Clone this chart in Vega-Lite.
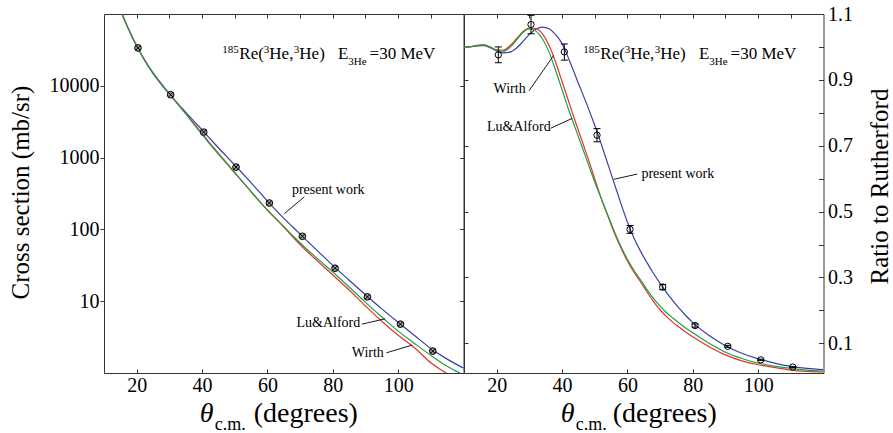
{
  "$schema": "https://vega.github.io/schema/vega-lite/v6.json",
  "autosize": {"type": "none"},
  "padding": {"left": 104, "top": 14, "right": 789, "bottom": 419},
  "background": "white",
  "config": {
    "view": {"stroke": "#333", "strokeWidth": 1},
    "font": "Liberation Serif, Times New Roman, Times, DejaVu Serif, serif",
    "axis": {"domain": false, "grid": false, "labelFont": "Liberation Serif, Times New Roman, Times, DejaVu Serif, serif", "labelFontSize": 20, "labelColor": "black", "tickColor": "#333", "tickWidth": 1, "titleFont": "Liberation Serif, Times New Roman, Times, DejaVu Serif, serif", "titleFontSize": 25, "titleFontWeight": "normal", "titleColor": "black"},
    "text": {"font": "Liberation Serif, Times New Roman, Times, DejaVu Serif, serif", "color": "black"}
  },
  "datasets": {
    "one": [{}],
    "sigma": [
      {"m": "present work", "x": 15, "s": 114000}, {"m": "present work", "x": 16, "s": 88300}, {"m": "present work", "x": 18, "s": 55000}, {"m": "present work", "x": 20, "s": 35860}, {"m": "present work", "x": 22, "s": 24450}, {"m": "present work", "x": 24, "s": 17380}, {"m": "present work", "x": 26, "s": 12840}, {"m": "present work", "x": 28, "s": 9790}, {"m": "present work", "x": 30, "s": 7633}, {"m": "present work", "x": 32, "s": 6026}, {"m": "present work", "x": 34, "s": 4787}, {"m": "present work", "x": 36, "s": 3818}, {"m": "present work", "x": 38, "s": 3049}, {"m": "present work", "x": 40, "s": 2436}, {"m": "present work", "x": 42, "s": 1930}, {"m": "present work", "x": 44, "s": 1534}, {"m": "present work", "x": 46, "s": 1225}, {"m": "present work", "x": 48, "s": 983}, {"m": "present work", "x": 50, "s": 788}, {"m": "present work", "x": 52, "s": 630}, {"m": "present work", "x": 54, "s": 501}, {"m": "present work", "x": 56, "s": 397}, {"m": "present work", "x": 58, "s": 314}, {"m": "present work", "x": 60, "s": 247}, {"m": "present work", "x": 64, "s": 159}, {"m": "present work", "x": 68, "s": 105.3}, {"m": "present work", "x": 72, "s": 70.2}, {"m": "present work", "x": 76, "s": 47.1}, {"m": "present work", "x": 80, "s": 31.5}, {"m": "present work", "x": 85, "s": 19.6}, {"m": "present work", "x": 90, "s": 12.3}, {"m": "present work", "x": 95, "s": 7.82}, {"m": "present work", "x": 100, "s": 5.08}, {"m": "present work", "x": 105, "s": 3.33}, {"m": "present work", "x": 110, "s": 2.2}, {"m": "present work", "x": 115, "s": 1.56}, {"m": "present work", "x": 120, "s": 1.17},
      {"m": "Wirth", "x": 15, "s": 114000}, {"m": "Wirth", "x": 16, "s": 88490}, {"m": "Wirth", "x": 18, "s": 55100}, {"m": "Wirth", "x": 20, "s": 35970}, {"m": "Wirth", "x": 22, "s": 24650}, {"m": "Wirth", "x": 24, "s": 17710}, {"m": "Wirth", "x": 26, "s": 13200}, {"m": "Wirth", "x": 28, "s": 10080}, {"m": "Wirth", "x": 30, "s": 7773}, {"m": "Wirth", "x": 32, "s": 6037}, {"m": "Wirth", "x": 34, "s": 4697}, {"m": "Wirth", "x": 36, "s": 3637}, {"m": "Wirth", "x": 38, "s": 2805}, {"m": "Wirth", "x": 40, "s": 2159}, {"m": "Wirth", "x": 42, "s": 1670}, {"m": "Wirth", "x": 44, "s": 1299}, {"m": "Wirth", "x": 46, "s": 1017}, {"m": "Wirth", "x": 48, "s": 796}, {"m": "Wirth", "x": 50, "s": 620}, {"m": "Wirth", "x": 52, "s": 483}, {"m": "Wirth", "x": 54, "s": 378}, {"m": "Wirth", "x": 56, "s": 295}, {"m": "Wirth", "x": 58, "s": 233}, {"m": "Wirth", "x": 60, "s": 184.8}, {"m": "Wirth", "x": 64, "s": 120.1}, {"m": "Wirth", "x": 68, "s": 76.6}, {"m": "Wirth", "x": 72, "s": 50.0}, {"m": "Wirth", "x": 76, "s": 34.0}, {"m": "Wirth", "x": 80, "s": 23.2}, {"m": "Wirth", "x": 85, "s": 14.3}, {"m": "Wirth", "x": 90, "s": 8.58}, {"m": "Wirth", "x": 95, "s": 5.25}, {"m": "Wirth", "x": 100, "s": 3.35}, {"m": "Wirth", "x": 105, "s": 2.25}, {"m": "Wirth", "x": 110, "s": 1.39}, {"m": "Wirth", "x": 115, "s": 0.98}, {"m": "Wirth", "x": 120, "s": 0.76},
      {"m": "Lu&Alford", "x": 15, "s": 114000}, {"m": "Lu&Alford", "x": 16, "s": 88490}, {"m": "Lu&Alford", "x": 18, "s": 55040}, {"m": "Lu&Alford", "x": 20, "s": 35930}, {"m": "Lu&Alford", "x": 22, "s": 24570}, {"m": "Lu&Alford", "x": 24, "s": 17630}, {"m": "Lu&Alford", "x": 26, "s": 13150}, {"m": "Lu&Alford", "x": 28, "s": 10060}, {"m": "Lu&Alford", "x": 30, "s": 7758}, {"m": "Lu&Alford", "x": 32, "s": 5991}, {"m": "Lu&Alford", "x": 34, "s": 4629}, {"m": "Lu&Alford", "x": 36, "s": 3565}, {"m": "Lu&Alford", "x": 38, "s": 2731}, {"m": "Lu&Alford", "x": 40, "s": 2098}, {"m": "Lu&Alford", "x": 42, "s": 1620}, {"m": "Lu&Alford", "x": 44, "s": 1265}, {"m": "Lu&Alford", "x": 46, "s": 991}, {"m": "Lu&Alford", "x": 48, "s": 778}, {"m": "Lu&Alford", "x": 50, "s": 610}, {"m": "Lu&Alford", "x": 52, "s": 483}, {"m": "Lu&Alford", "x": 54, "s": 381}, {"m": "Lu&Alford", "x": 56, "s": 299}, {"m": "Lu&Alford", "x": 58, "s": 236}, {"m": "Lu&Alford", "x": 60, "s": 187.4}, {"m": "Lu&Alford", "x": 64, "s": 122.6}, {"m": "Lu&Alford", "x": 68, "s": 79.7}, {"m": "Lu&Alford", "x": 72, "s": 53.3}, {"m": "Lu&Alford", "x": 76, "s": 36.7}, {"m": "Lu&Alford", "x": 80, "s": 25.5}, {"m": "Lu&Alford", "x": 85, "s": 15.8}, {"m": "Lu&Alford", "x": 90, "s": 9.64}, {"m": "Lu&Alford", "x": 95, "s": 6.03}, {"m": "Lu&Alford", "x": 100, "s": 3.83}, {"m": "Lu&Alford", "x": 105, "s": 2.58}, {"m": "Lu&Alford", "x": 110, "s": 1.76}, {"m": "Lu&Alford", "x": 115, "s": 1.24}, {"m": "Lu&Alford", "x": 120, "s": 0.94}
    ],
    "ratio": [
      {"m": "present work", "x": 10, "r": 1.0}, {"m": "present work", "x": 12, "r": 1.001}, {"m": "present work", "x": 14, "r": 1.003}, {"m": "present work", "x": 16, "r": 1.004}, {"m": "present work", "x": 18, "r": 0.998}, {"m": "present work", "x": 20, "r": 0.988}, {"m": "present work", "x": 22, "r": 0.982}, {"m": "present work", "x": 24, "r": 0.984}, {"m": "present work", "x": 26, "r": 0.996}, {"m": "present work", "x": 28, "r": 1.016}, {"m": "present work", "x": 30, "r": 1.038}, {"m": "present work", "x": 32, "r": 1.054}, {"m": "present work", "x": 34, "r": 1.06}, {"m": "present work", "x": 36, "r": 1.055}, {"m": "present work", "x": 38, "r": 1.038}, {"m": "present work", "x": 40, "r": 1.01}, {"m": "present work", "x": 42, "r": 0.965}, {"m": "present work", "x": 44, "r": 0.915}, {"m": "present work", "x": 46, "r": 0.865}, {"m": "present work", "x": 48, "r": 0.815}, {"m": "present work", "x": 50, "r": 0.762}, {"m": "present work", "x": 52, "r": 0.705}, {"m": "present work", "x": 54, "r": 0.645}, {"m": "present work", "x": 56, "r": 0.585}, {"m": "present work", "x": 58, "r": 0.525}, {"m": "present work", "x": 60, "r": 0.468}, {"m": "present work", "x": 62, "r": 0.42}, {"m": "present work", "x": 64, "r": 0.38}, {"m": "present work", "x": 66, "r": 0.345}, {"m": "present work", "x": 68, "r": 0.312}, {"m": "present work", "x": 70, "r": 0.282}, {"m": "present work", "x": 72, "r": 0.254}, {"m": "present work", "x": 74, "r": 0.228}, {"m": "present work", "x": 76, "r": 0.205}, {"m": "present work", "x": 78, "r": 0.183}, {"m": "present work", "x": 80, "r": 0.163}, {"m": "present work", "x": 85, "r": 0.124}, {"m": "present work", "x": 90, "r": 0.093}, {"m": "present work", "x": 95, "r": 0.07}, {"m": "present work", "x": 100, "r": 0.053}, {"m": "present work", "x": 105, "r": 0.04}, {"m": "present work", "x": 110, "r": 0.03}, {"m": "present work", "x": 115, "r": 0.024}, {"m": "present work", "x": 120, "r": 0.02},
      {"m": "Wirth", "x": 10, "r": 1.0}, {"m": "Wirth", "x": 12, "r": 1.0}, {"m": "Wirth", "x": 14, "r": 1.004}, {"m": "Wirth", "x": 16, "r": 1.006}, {"m": "Wirth", "x": 18, "r": 1.0}, {"m": "Wirth", "x": 20, "r": 0.991}, {"m": "Wirth", "x": 22, "r": 0.99}, {"m": "Wirth", "x": 24, "r": 1.003}, {"m": "Wirth", "x": 26, "r": 1.024}, {"m": "Wirth", "x": 28, "r": 1.046}, {"m": "Wirth", "x": 30, "r": 1.057}, {"m": "Wirth", "x": 32, "r": 1.056}, {"m": "Wirth", "x": 34, "r": 1.04}, {"m": "Wirth", "x": 36, "r": 1.005}, {"m": "Wirth", "x": 38, "r": 0.955}, {"m": "Wirth", "x": 40, "r": 0.895}, {"m": "Wirth", "x": 42, "r": 0.835}, {"m": "Wirth", "x": 44, "r": 0.775}, {"m": "Wirth", "x": 46, "r": 0.718}, {"m": "Wirth", "x": 48, "r": 0.66}, {"m": "Wirth", "x": 50, "r": 0.6}, {"m": "Wirth", "x": 52, "r": 0.54}, {"m": "Wirth", "x": 54, "r": 0.487}, {"m": "Wirth", "x": 56, "r": 0.435}, {"m": "Wirth", "x": 58, "r": 0.39}, {"m": "Wirth", "x": 60, "r": 0.35}, {"m": "Wirth", "x": 62, "r": 0.316}, {"m": "Wirth", "x": 64, "r": 0.287}, {"m": "Wirth", "x": 66, "r": 0.256}, {"m": "Wirth", "x": 68, "r": 0.227}, {"m": "Wirth", "x": 70, "r": 0.202}, {"m": "Wirth", "x": 72, "r": 0.181}, {"m": "Wirth", "x": 74, "r": 0.163}, {"m": "Wirth", "x": 76, "r": 0.148}, {"m": "Wirth", "x": 78, "r": 0.133}, {"m": "Wirth", "x": 80, "r": 0.12}, {"m": "Wirth", "x": 85, "r": 0.09}, {"m": "Wirth", "x": 90, "r": 0.065}, {"m": "Wirth", "x": 95, "r": 0.047}, {"m": "Wirth", "x": 100, "r": 0.035}, {"m": "Wirth", "x": 105, "r": 0.027}, {"m": "Wirth", "x": 110, "r": 0.019}, {"m": "Wirth", "x": 115, "r": 0.015}, {"m": "Wirth", "x": 120, "r": 0.013},
      {"m": "Lu&Alford", "x": 10, "r": 1.0}, {"m": "Lu&Alford", "x": 12, "r": 1.001}, {"m": "Lu&Alford", "x": 14, "r": 1.005}, {"m": "Lu&Alford", "x": 16, "r": 1.006}, {"m": "Lu&Alford", "x": 18, "r": 0.999}, {"m": "Lu&Alford", "x": 20, "r": 0.99}, {"m": "Lu&Alford", "x": 22, "r": 0.987}, {"m": "Lu&Alford", "x": 24, "r": 0.998}, {"m": "Lu&Alford", "x": 26, "r": 1.02}, {"m": "Lu&Alford", "x": 28, "r": 1.044}, {"m": "Lu&Alford", "x": 30, "r": 1.055}, {"m": "Lu&Alford", "x": 32, "r": 1.048}, {"m": "Lu&Alford", "x": 34, "r": 1.025}, {"m": "Lu&Alford", "x": 36, "r": 0.985}, {"m": "Lu&Alford", "x": 38, "r": 0.93}, {"m": "Lu&Alford", "x": 40, "r": 0.87}, {"m": "Lu&Alford", "x": 42, "r": 0.81}, {"m": "Lu&Alford", "x": 44, "r": 0.755}, {"m": "Lu&Alford", "x": 46, "r": 0.7}, {"m": "Lu&Alford", "x": 48, "r": 0.645}, {"m": "Lu&Alford", "x": 50, "r": 0.59}, {"m": "Lu&Alford", "x": 52, "r": 0.54}, {"m": "Lu&Alford", "x": 54, "r": 0.49}, {"m": "Lu&Alford", "x": 56, "r": 0.44}, {"m": "Lu&Alford", "x": 58, "r": 0.395}, {"m": "Lu&Alford", "x": 60, "r": 0.355}, {"m": "Lu&Alford", "x": 62, "r": 0.322}, {"m": "Lu&Alford", "x": 64, "r": 0.293}, {"m": "Lu&Alford", "x": 66, "r": 0.263}, {"m": "Lu&Alford", "x": 68, "r": 0.236}, {"m": "Lu&Alford", "x": 70, "r": 0.213}, {"m": "Lu&Alford", "x": 72, "r": 0.193}, {"m": "Lu&Alford", "x": 74, "r": 0.176}, {"m": "Lu&Alford", "x": 76, "r": 0.16}, {"m": "Lu&Alford", "x": 78, "r": 0.145}, {"m": "Lu&Alford", "x": 80, "r": 0.132}, {"m": "Lu&Alford", "x": 85, "r": 0.1}, {"m": "Lu&Alford", "x": 90, "r": 0.073}, {"m": "Lu&Alford", "x": 95, "r": 0.054}, {"m": "Lu&Alford", "x": 100, "r": 0.04}, {"m": "Lu&Alford", "x": 105, "r": 0.031}, {"m": "Lu&Alford", "x": 110, "r": 0.024}, {"m": "Lu&Alford", "x": 115, "r": 0.019}, {"m": "Lu&Alford", "x": 120, "r": 0.016}
    ],
    "sigpts": [
      {"x": 20.4, "s": 33700}, {"x": 30.4, "s": 7500}, {"x": 40.5, "s": 2265}, {"x": 50.4, "s": 738}, {"x": 60.6, "s": 233}, {"x": 70.7, "s": 80.2}, {"x": 80.7, "s": 28.8}, {"x": 90.6, "s": 11.5}, {"x": 100.7, "s": 4.79}, {"x": 110.6, "s": 2.02}
    ],
    "ratpts": [
      {"x": 20.5, "r": 0.976, "lo": 0.952, "hi": 1.0}, {"x": 30.5, "r": 1.068, "lo": 1.04, "hi": 1.096}, {"x": 40.7, "r": 0.985, "lo": 0.96, "hi": 1.009}, {"x": 50.7, "r": 0.732, "lo": 0.712, "hi": 0.752}, {"x": 60.8, "r": 0.446, "lo": 0.434, "hi": 0.458}, {"x": 70.8, "r": 0.271, "lo": 0.263, "hi": 0.279}, {"x": 80.7, "r": 0.154, "lo": 0.149, "hi": 0.159}, {"x": 90.7, "r": 0.091, "lo": 0.088, "hi": 0.094}, {"x": 100.8, "r": 0.05, "lo": 0.048, "hi": 0.052}, {"x": 110.6, "r": 0.028, "lo": 0.027, "hi": 0.029}
    ],
    "labsL": [
      {"t": "present work", "x": 67.5, "y": 307.6}, {"t": "Lu&Alford", "x": 68.9, "y": 4.4}, {"t": "Wirth", "x": 85.8, "y": 1.68}
    ],
    "labsR": [
      {"t": "Wirth", "x": 19.05, "y": 0.859}, {"t": "Lu&Alford", "x": 17.0, "y": 0.746}, {"t": "present work", "x": 64.3, "y": 0.603}
    ],
    "leadL": [
      {"x": 71.3, "y": 284, "x2": 65.2, "y2": 166}, {"x": 88.9, "y": 4.79, "x2": 96.0, "y2": 5.68}, {"x": 96.4, "y": 1.91, "x2": 104.2, "y2": 2.44}
    ],
    "leadR": [
      {"x": 29.9, "y": 0.867, "x2": 37.5, "y2": 0.975}, {"x": 36.5, "y": 0.753, "x2": 43.1, "y2": 0.783}, {"x": 63.0, "y": 0.614, "x2": 55.8, "y2": 0.598}
    ]
  },
  "spacing": 0,
  "bounds": "flush",
  "hconcat": [
    {
      "width": 359.5,
      "height": 359,
      "resolve": {"axis": {"x": "independent", "y": "independent"}},
      "layer": [
        {
          "layer": [
            {
              "data": {"name": "sigma"},
              "mark": {"type": "line", "clip": true, "strokeWidth": 1.2, "interpolate": "monotone"},
              "encoding": {
                "x": {"field": "x", "type": "quantitative", "scale": {"domain": [10, 120], "nice": false, "zero": false},
                      "axis": {"orient": "bottom", "values": [20, 30, 40, 50, 60, 70, 80, 90, 100, 110], "labelExpr": "datum.value % 20 == 0 ? datum.label : ''", "tickSize": -4, "labelPadding": 6.5, "title": null}},
                "y": {"field": "s", "type": "quantitative", "scale": {"type": "log", "domain": [1, 100000], "nice": false},
                      "axis": {"orient": "left", "values": [10, 100, 1000, 10000], "format": "d", "tickSize": 4, "labelPadding": 1, "title": "Cross section (mb/sr)", "titleX": -76, "titleY": 178, "titleBaseline": "alphabetic", "titleAngle": 270}},
                "color": {"field": "m", "type": "nominal", "scale": {"domain": ["present work", "Wirth", "Lu&Alford"], "range": ["#3340a6", "#ea3027", "#1ca04a"]}, "legend": null}
              }
            },
            {
              "data": {"name": "sigpts"},
              "mark": {"type": "point", "shape": "circle", "filled": true, "fill": "#9a9a9a", "stroke": "black", "strokeWidth": 1, "size": 45, "opacity": 1},
              "encoding": {"x": {"field": "x", "type": "quantitative"}, "y": {"field": "s", "type": "quantitative"}}
            },
            {
              "data": {"name": "leadL"},
              "mark": {"type": "rule", "color": "black", "strokeWidth": 0.9},
              "encoding": {"x": {"field": "x", "type": "quantitative"}, "y": {"field": "y", "type": "quantitative"}, "x2": {"field": "x2"}, "y2": {"field": "y2"}}
            },
            {
              "data": {"name": "labsL"},
              "mark": {"type": "text", "fontSize": 14, "align": "left", "baseline": "alphabetic"},
              "encoding": {"x": {"field": "x", "type": "quantitative"}, "y": {"field": "y", "type": "quantitative"}, "text": {"field": "t"}}
            },
            {"data": {"name": "one"}, "mark": {"type": "text", "fontSize": 11, "align": "left", "baseline": "alphabetic", "dx": 0, "dy": -6}, "encoding": {"x": {"datum": 46.2}, "y": {"datum": 23500}, "text": {"value": "185"}}},
            {"data": {"name": "one"}, "mark": {"type": "text", "fontSize": 17, "align": "left", "baseline": "alphabetic", "dx": 17}, "encoding": {"x": {"datum": 46.2}, "y": {"datum": 23500}, "text": {"value": "Re("}}},
            {"data": {"name": "one"}, "mark": {"type": "text", "fontSize": 11, "align": "left", "baseline": "alphabetic", "dx": 41.5, "dy": -6}, "encoding": {"x": {"datum": 46.2}, "y": {"datum": 23500}, "text": {"value": "3"}}},
            {"data": {"name": "one"}, "mark": {"type": "text", "fontSize": 17, "align": "left", "baseline": "alphabetic", "dx": 47}, "encoding": {"x": {"datum": 46.2}, "y": {"datum": 23500}, "text": {"value": "He,"}}},
            {"data": {"name": "one"}, "mark": {"type": "text", "fontSize": 11, "align": "left", "baseline": "alphabetic", "dx": 71.5, "dy": -6}, "encoding": {"x": {"datum": 46.2}, "y": {"datum": 23500}, "text": {"value": "3"}}},
            {"data": {"name": "one"}, "mark": {"type": "text", "fontSize": 17, "align": "left", "baseline": "alphabetic", "dx": 77}, "encoding": {"x": {"datum": 46.2}, "y": {"datum": 23500}, "text": {"value": "He)"}}},
            {"data": {"name": "one"}, "mark": {"type": "text", "fontSize": 17, "align": "left", "baseline": "alphabetic", "dx": 115.6}, "encoding": {"x": {"datum": 46.2}, "y": {"datum": 23500}, "text": {"value": "E"}}},
            {"data": {"name": "one"}, "mark": {"type": "text", "fontSize": 11, "align": "left", "baseline": "alphabetic", "dx": 126, "dy": 6}, "encoding": {"x": {"datum": 46.2}, "y": {"datum": 23500}, "text": {"value": "3He"}}},
            {"data": {"name": "one"}, "mark": {"type": "text", "fontSize": 17, "align": "left", "baseline": "alphabetic", "dx": 147.3}, "encoding": {"x": {"datum": 46.2}, "y": {"datum": 23500}, "text": {"value": "=30 MeV"}}},
            {"data": {"name": "one"}, "mark": {"type": "text", "fontSize": 28, "fontStyle": "italic", "align": "left", "baseline": "alphabetic", "dx": -3}, "encoding": {"x": {"datum": 40.2}, "y": {"datum": 0.205}, "text": {"value": "θ"}}},
            {"data": {"name": "one"}, "mark": {"type": "text", "fontSize": 18, "align": "left", "baseline": "alphabetic", "dx": 12}, "encoding": {"x": {"datum": 40.2}, "y": {"datum": 0.161}, "text": {"value": "c.m."}}},
            {"data": {"name": "one"}, "mark": {"type": "text", "fontSize": 28, "align": "left", "baseline": "alphabetic", "dx": 51}, "encoding": {"x": {"datum": 40.2}, "y": {"datum": 0.205}, "text": {"value": "(degrees)"}}}
          ]
        },
        {
          "data": {"name": "sigpts"},
          "mark": {"type": "point", "shape": "M-0.7,-0.7L0.7,0.7M-0.7,0.7L0.7,-0.7", "size": 45, "stroke": "black", "strokeWidth": 1, "opacity": 1},
          "encoding": {
            "x": {"field": "x", "type": "quantitative", "axis": {"orient": "top", "values": [20, 30, 40, 50, 60, 70, 80, 90, 100, 110], "labels": false, "tickSize": -4, "title": null}},
            "y": {"field": "s", "type": "quantitative", "axis": {"orient": "right", "values": [10, 100, 1000, 10000], "labels": false, "tickSize": -4, "title": null}}
          }
        }
      ]
    },
    {
      "width": 359.5,
      "height": 359,
      "resolve": {"axis": {"x": "independent", "y": "independent"}},
      "layer": [
        {
          "layer": [
            {
              "data": {"name": "ratio"},
              "mark": {"type": "line", "clip": true, "strokeWidth": 1.2, "interpolate": "monotone"},
              "encoding": {
                "x": {"field": "x", "type": "quantitative", "scale": {"domain": [10, 120], "nice": false, "zero": false},
                      "axis": {"orient": "bottom", "values": [20, 30, 40, 50, 60, 70, 80, 90, 100, 110], "labelExpr": "datum.value % 20 == 0 ? datum.label : ''", "tickSize": -4, "labelPadding": 6.5, "title": null}},
                "y": {"field": "r", "type": "quantitative", "scale": {"domain": [0.01, 1.1], "nice": false, "zero": false},
                      "axis": {"orient": "left", "values": [0.1, 0.2, 0.3, 0.4, 0.5, 0.6, 0.7, 0.8, 0.9, 1.0], "labels": false, "tickSize": -4, "title": null}},
                "color": {"field": "m", "type": "nominal", "scale": {"domain": ["present work", "Wirth", "Lu&Alford"], "range": ["#3340a6", "#ea3027", "#1ca04a"]}, "legend": null}
              }
            },
            {
              "data": {"name": "ratpts"},
              "mark": {"type": "rule", "color": "black", "strokeWidth": 1},
              "encoding": {"x": {"field": "x", "type": "quantitative"}, "y": {"field": "lo", "type": "quantitative"}, "y2": {"field": "hi"}}
            },
            {
              "data": {"name": "ratpts"},
              "mark": {"type": "point", "shape": "M-1,0L1,0", "size": 49, "stroke": "black", "strokeWidth": 1, "opacity": 1},
              "encoding": {"x": {"field": "x", "type": "quantitative"}, "y": {"field": "lo", "type": "quantitative"}}
            },
            {
              "data": {"name": "ratpts"},
              "mark": {"type": "point", "shape": "M-1,0L1,0", "size": 49, "stroke": "black", "strokeWidth": 1, "opacity": 1},
              "encoding": {"x": {"field": "x", "type": "quantitative"}, "y": {"field": "hi", "type": "quantitative"}}
            },
            {
              "data": {"name": "leadR"},
              "mark": {"type": "rule", "color": "black", "strokeWidth": 0.9},
              "encoding": {"x": {"field": "x", "type": "quantitative"}, "y": {"field": "y", "type": "quantitative"}, "x2": {"field": "x2"}, "y2": {"field": "y2"}}
            },
            {
              "data": {"name": "labsR"},
              "mark": {"type": "text", "fontSize": 14, "align": "left", "baseline": "alphabetic"},
              "encoding": {"x": {"field": "x", "type": "quantitative"}, "y": {"field": "y", "type": "quantitative"}, "text": {"field": "t"}}
            },
            {"data": {"name": "one"}, "mark": {"type": "text", "fontSize": 11, "align": "left", "baseline": "alphabetic", "dx": 0, "dy": -6}, "encoding": {"x": {"datum": 46.5}, "y": {"datum": 0.964}, "text": {"value": "185"}}},
            {"data": {"name": "one"}, "mark": {"type": "text", "fontSize": 17, "align": "left", "baseline": "alphabetic", "dx": 17}, "encoding": {"x": {"datum": 46.5}, "y": {"datum": 0.964}, "text": {"value": "Re("}}},
            {"data": {"name": "one"}, "mark": {"type": "text", "fontSize": 11, "align": "left", "baseline": "alphabetic", "dx": 41.5, "dy": -6}, "encoding": {"x": {"datum": 46.5}, "y": {"datum": 0.964}, "text": {"value": "3"}}},
            {"data": {"name": "one"}, "mark": {"type": "text", "fontSize": 17, "align": "left", "baseline": "alphabetic", "dx": 47}, "encoding": {"x": {"datum": 46.5}, "y": {"datum": 0.964}, "text": {"value": "He,"}}},
            {"data": {"name": "one"}, "mark": {"type": "text", "fontSize": 11, "align": "left", "baseline": "alphabetic", "dx": 71.5, "dy": -6}, "encoding": {"x": {"datum": 46.5}, "y": {"datum": 0.964}, "text": {"value": "3"}}},
            {"data": {"name": "one"}, "mark": {"type": "text", "fontSize": 17, "align": "left", "baseline": "alphabetic", "dx": 77}, "encoding": {"x": {"datum": 46.5}, "y": {"datum": 0.964}, "text": {"value": "He)"}}},
            {"data": {"name": "one"}, "mark": {"type": "text", "fontSize": 17, "align": "left", "baseline": "alphabetic", "dx": 115.6}, "encoding": {"x": {"datum": 46.5}, "y": {"datum": 0.964}, "text": {"value": "E"}}},
            {"data": {"name": "one"}, "mark": {"type": "text", "fontSize": 11, "align": "left", "baseline": "alphabetic", "dx": 126, "dy": 6}, "encoding": {"x": {"datum": 46.5}, "y": {"datum": 0.964}, "text": {"value": "3He"}}},
            {"data": {"name": "one"}, "mark": {"type": "text", "fontSize": 17, "align": "left", "baseline": "alphabetic", "dx": 147.3}, "encoding": {"x": {"datum": 46.5}, "y": {"datum": 0.964}, "text": {"value": "=30 MeV"}}},
            {"data": {"name": "one"}, "mark": {"type": "text", "fontSize": 28, "fontStyle": "italic", "align": "left", "baseline": "alphabetic", "dx": -3}, "encoding": {"x": {"datum": 40.5}, "y": {"datum": -0.14}, "text": {"value": "θ"}}},
            {"data": {"name": "one"}, "mark": {"type": "text", "fontSize": 18, "align": "left", "baseline": "alphabetic", "dx": 12}, "encoding": {"x": {"datum": 40.5}, "y": {"datum": -0.163}, "text": {"value": "c.m."}}},
            {"data": {"name": "one"}, "mark": {"type": "text", "fontSize": 28, "align": "left", "baseline": "alphabetic", "dx": 49}, "encoding": {"x": {"datum": 40.5}, "y": {"datum": -0.14}, "text": {"value": "(degrees)"}}}
          ]
        },
        {
          "data": {"name": "ratpts"},
          "mark": {"type": "point", "shape": "circle", "filled": false, "size": 40, "stroke": "black", "strokeWidth": 1, "opacity": 1},
          "encoding": {
            "x": {"field": "x", "type": "quantitative", "axis": {"orient": "top", "values": [20, 30, 40, 50, 60, 70, 80, 90, 100, 110], "labels": false, "tickSize": -4, "title": null}},
            "y": {"field": "r", "type": "quantitative", "axis": {"orient": "right", "values": [0.1, 0.2, 0.3, 0.4, 0.5, 0.6, 0.7, 0.8, 0.9, 1.0, 1.1], "labelExpr": "round(datum.value * 10) % 2 == 1 ? format(datum.value, '.1f') : ''", "tickSize": -5, "labelPadding": 9, "title": "Ratio to Rutherford", "titleX": 64, "titleY": 172, "titleBaseline": "alphabetic", "titleAngle": 270}}
          }
        }
      ]
    }
  ]
}
